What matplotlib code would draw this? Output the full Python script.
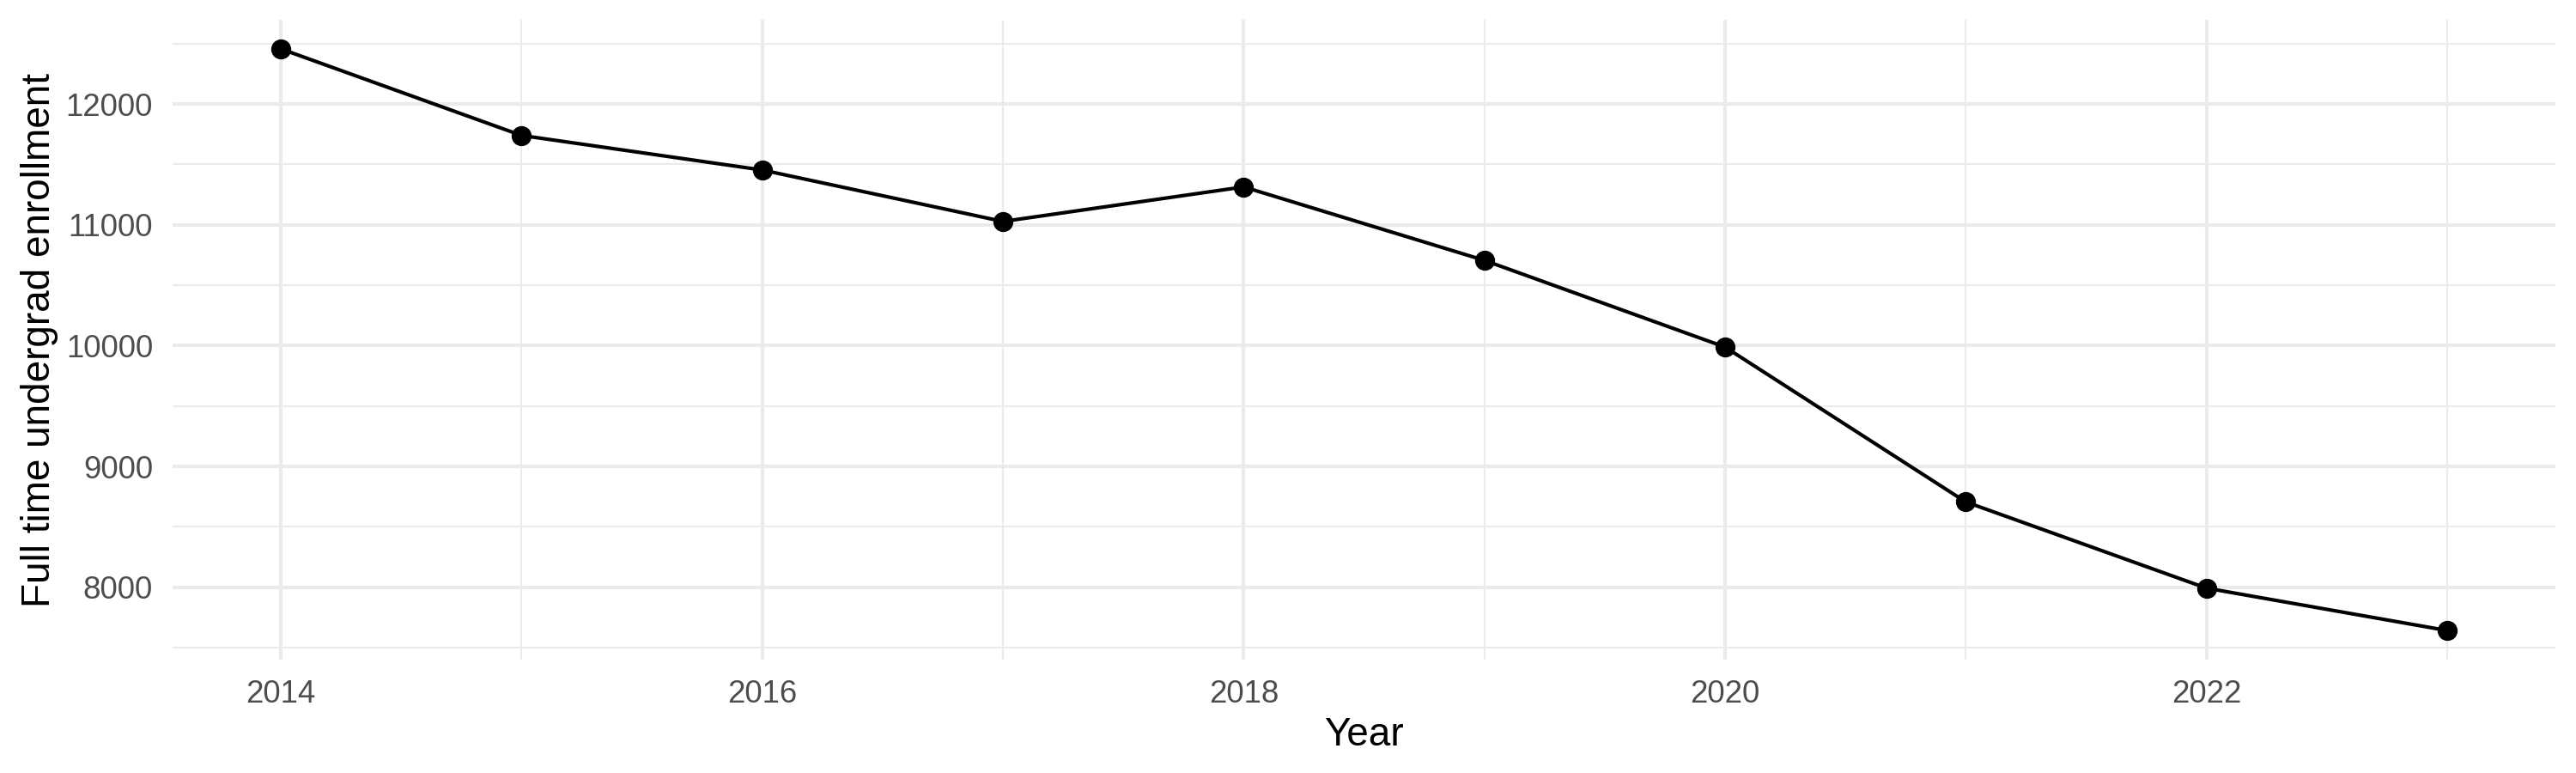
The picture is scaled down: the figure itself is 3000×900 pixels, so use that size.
import matplotlib
matplotlib.use("Agg")
import matplotlib.pyplot as plt
from matplotlib.ticker import MultipleLocator

years = [2014, 2015, 2016, 2017, 2018, 2019, 2020, 2021, 2022, 2023]
enrollment = [12457, 11740, 11454, 11028, 11314, 10706, 9988, 8706, 7992, 7641]

plt.rcParams["font.family"] = ["Liberation Sans", "DejaVu Sans"]

fig = plt.figure(figsize=(10, 3), dpi=300)
ax = fig.add_axes([0.067, 0.1467, 0.925, 0.8277])

# ggplot-like padding of 5% on both axes
xr = max(years) - min(years)
yr = max(enrollment) - min(enrollment)
ax.set_xlim(min(years) - 0.05 * xr, max(years) + 0.05 * xr)
ax.set_ylim(min(enrollment) - 0.05 * yr, max(enrollment) + 0.05 * yr)

ax.xaxis.set_major_locator(MultipleLocator(2))
ax.xaxis.set_minor_locator(MultipleLocator(1))
ax.yaxis.set_major_locator(MultipleLocator(1000))
ax.yaxis.set_minor_locator(MultipleLocator(500))

ax.grid(which="major", color="#EBEBEB", linewidth=1.0)
ax.grid(which="minor", color="#EBEBEB", linewidth=0.5)
ax.set_axisbelow(True)
for s in ax.spines.values():
    s.set_visible(False)

ax.plot(years, enrollment, color="black", linewidth=1.0, marker="o",
        markersize=4.6, zorder=3)

ax.tick_params(which="both", length=0, labelsize=8.8, labelcolor="#4D4D4D")
ax.tick_params(axis="x", pad=5.5)
ax.tick_params(axis="y", pad=5.5)

ax.set_xlabel("Year", fontsize=11, va="baseline")
ax.set_ylabel("Full time undergrad enrollment", fontsize=11, va="center")
ax.xaxis.set_label_coords(0.5, -0.134)
ax.yaxis.set_label_coords(-0.056, 0.5)

fig.savefig("out.png", dpi=300, facecolor="white")
